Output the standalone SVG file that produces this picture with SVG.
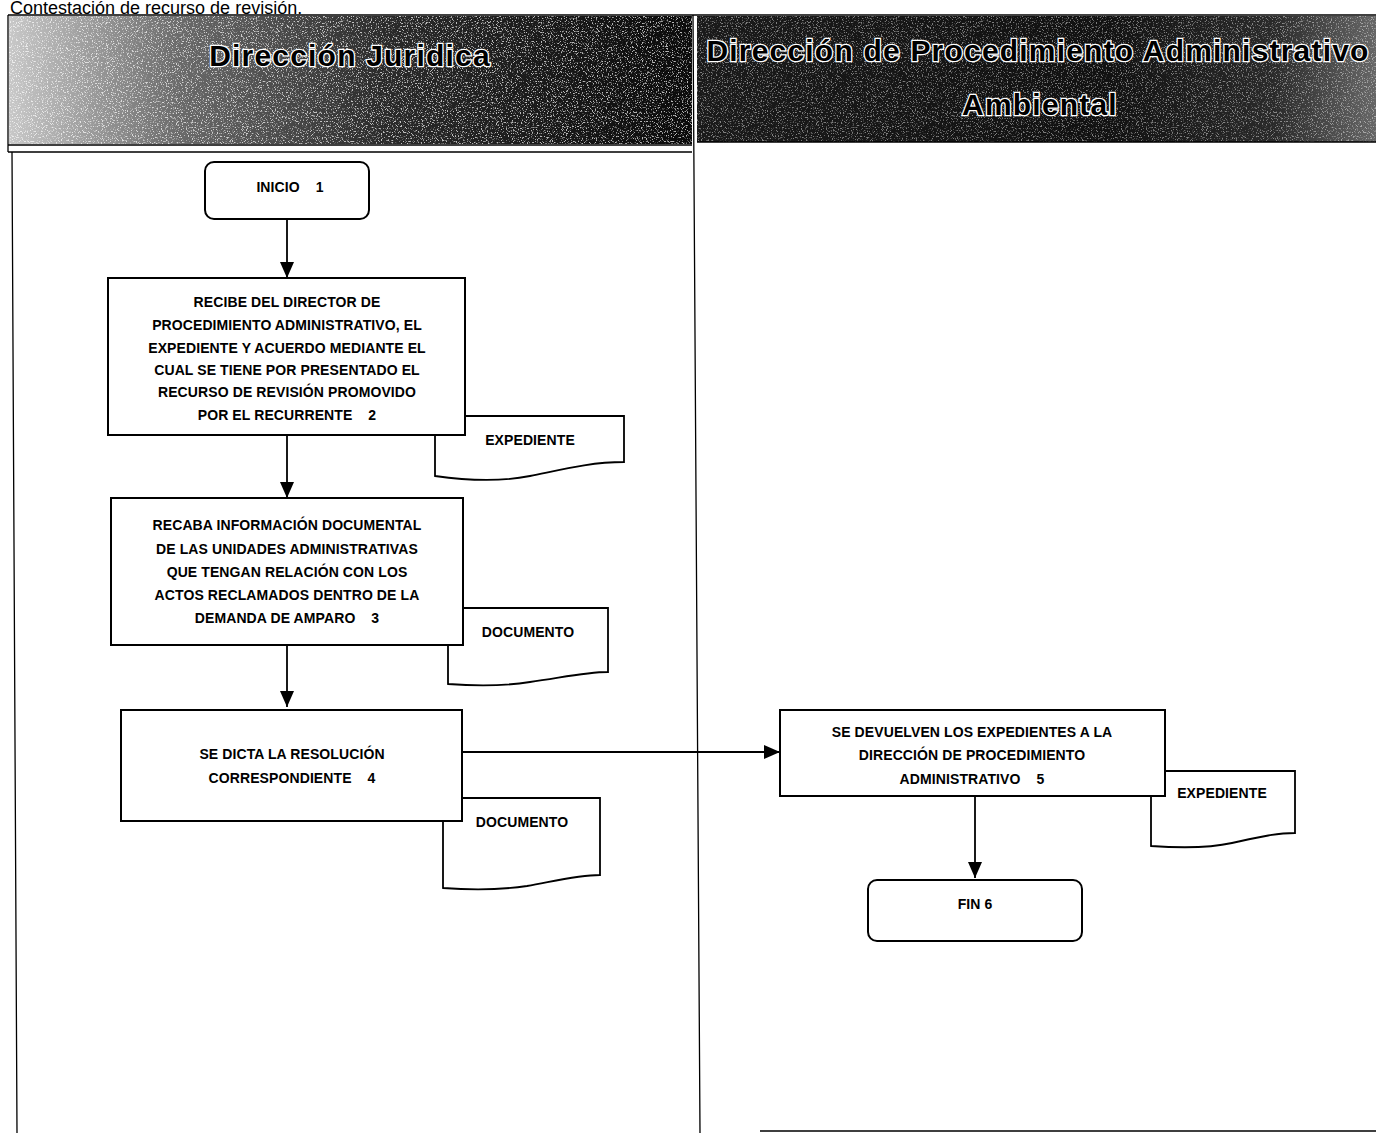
<svg xmlns="http://www.w3.org/2000/svg" width="1376" height="1133" viewBox="0 0 1376 1133">
<style>
.t{font-family:"Liberation Sans",Arial,sans-serif;font-weight:bold;font-size:14px;fill:#000;text-anchor:middle;white-space:pre;letter-spacing:0.1px}
.box{fill:#fff;stroke:#000;stroke-width:2}
.doc{fill:#fff;stroke:#000;stroke-width:1.8}
.lane{fill:none;stroke:#000;stroke-width:1.3}
.conn{fill:none;stroke:#000;stroke-width:1.8}
.hd{font-family:"Liberation Sans",Arial,sans-serif;font-weight:bold;font-size:30px;letter-spacing:1.2px;fill:#000;stroke:#fff;stroke-width:2.6;paint-order:stroke;text-anchor:middle}
</style>
<defs>
<marker id="ah" viewBox="0 0 16 14" refX="16" refY="7" markerWidth="16" markerHeight="14" markerUnits="userSpaceOnUse" orient="auto">
<path d="M0,0 L16,7 L0,14 Z" fill="#000"/>
</marker>
<linearGradient id="gL" x1="0" y1="0" x2="1" y2="0">
<stop offset="0" stop-color="#c8c8c8"/>
<stop offset="0.25" stop-color="#6a6a6a"/>
<stop offset="0.55" stop-color="#2a2a2a"/>
<stop offset="1" stop-color="#0a0a0a"/>
</linearGradient>
<linearGradient id="gR" x1="0" y1="0" x2="1" y2="0">
<stop offset="0" stop-color="#1a1a1a"/>
<stop offset="0.6" stop-color="#111"/>
<stop offset="0.85" stop-color="#2a2a2a"/>
<stop offset="1" stop-color="#666"/>
</linearGradient>
<filter id="spk" x="0" y="0" width="100%" height="100%">
<feTurbulence type="fractalNoise" baseFrequency="0.8" numOctaves="2" seed="7"/>
<feColorMatrix type="matrix" values="0 0 0 0 1  0 0 0 0 1  0 0 0 0 1  7 0 0 0 -3.9"/>
</filter>
</defs>
<text x="10" y="14" style="font-family:'Liberation Sans',Arial,sans-serif;font-size:18px;fill:#000">Contestación de recurso de revisión.</text>
<g id="header">
<rect x="9" y="16" width="683" height="128" fill="url(#gL)"/>
<rect x="9" y="16" width="683" height="128" fill="#fff" filter="url(#spk)" opacity="0.7"/>
<rect x="697" y="16" width="679" height="126" fill="url(#gR)"/>
<rect x="697" y="16" width="679" height="126" fill="#fff" filter="url(#spk)" opacity="0.45"/>
<path class="lane" d="M8,15 H1376 M8,15 V152 M8,145 H692 M697,142 H1376"/>
<text class="hd" x="350" y="66">Dirección Juridica</text>
<text class="hd" x="1038" y="61">Dirección de Procedimiento Administrativo</text>
<text class="hd" x="1040" y="115">Ambiental</text>
</g>
<g id="lanes">
<path class="lane" d="M8,152 H692 M12,152 L17,1133 M693,15 L700,1133 M760,1131 H1376"/>
</g>
<g id="connectors">
<line class="conn" x1="287" y1="219" x2="287" y2="278" marker-end="url(#ah)"/>
<line class="conn" x1="287" y1="435" x2="287" y2="498" marker-end="url(#ah)"/>
<line class="conn" x1="287" y1="645" x2="287" y2="707" marker-end="url(#ah)"/>
<line class="conn" x1="462" y1="752" x2="780" y2="752" marker-end="url(#ah)"/>
<line class="conn" x1="975" y1="796" x2="975" y2="878" marker-end="url(#ah)"/>
</g>
<g id="d2">
<path class="doc" d="M435,416 H624 V462 C590,462 560,470 530,476 C500,482 470,481 435,476 Z"/>
<text class="t" x="530" y="445">EXPEDIENTE</text>
</g>
<g id="d3">
<path class="doc" d="M448,608 H608 V672 C585,672 560,678 530,682 C505,686 475,686 448,684 Z"/>
<text class="t" x="528" y="637">DOCUMENTO</text>
</g>
<g id="d4">
<path class="doc" d="M443,798 H600 V875 C578,875 555,881 527,886 C500,890 470,890 443,888 Z"/>
<text class="t" x="522" y="827">DOCUMENTO</text>
</g>
<g id="d5">
<path class="doc" d="M1151,771 H1295 V833 C1275,833 1255,838 1232,843 C1210,848 1180,848 1151,846 Z"/>
<text class="t" x="1222" y="798">EXPEDIENTE</text>
</g>
<g id="n1">
<rect class="box" x="205" y="162" width="164" height="57" rx="9"/>
<text class="t" x="290" y="192">INICIO    1</text>
</g>
<g id="n2">
<rect class="box" x="108" y="278" width="357" height="157"/>
<text class="t" x="287" y="307">RECIBE DEL DIRECTOR DE</text>
<text class="t" x="287" y="330">PROCEDIMIENTO ADMINISTRATIVO, EL</text>
<text class="t" x="287" y="353">EXPEDIENTE Y ACUERDO MEDIANTE EL</text>
<text class="t" x="287" y="375">CUAL SE TIENE POR PRESENTADO EL</text>
<text class="t" x="287" y="397">RECURSO DE REVISIÓN PROMOVIDO</text>
<text class="t" x="287" y="420">POR EL RECURRENTE    2</text>
</g>
<g id="n3">
<rect class="box" x="111" y="498" width="352" height="147"/>
<text class="t" x="287" y="530">RECABA INFORMACIÓN DOCUMENTAL</text>
<text class="t" x="287" y="554">DE LAS UNIDADES ADMINISTRATIVAS</text>
<text class="t" x="287" y="577">QUE TENGAN RELACIÓN CON LOS</text>
<text class="t" x="287" y="600">ACTOS RECLAMADOS DENTRO DE LA</text>
<text class="t" x="287" y="623">DEMANDA DE AMPARO    3</text>
</g>
<g id="n4">
<rect class="box" x="121" y="710" width="341" height="111"/>
<text class="t" x="292" y="759">SE DICTA LA RESOLUCIÓN</text>
<text class="t" x="292" y="783">CORRESPONDIENTE    4</text>
</g>
<g id="n5">
<rect class="box" x="780" y="710" width="385" height="86"/>
<text class="t" x="972" y="737">SE DEVUELVEN LOS EXPEDIENTES A LA</text>
<text class="t" x="972" y="760">DIRECCIÓN DE PROCEDIMIENTO</text>
<text class="t" x="972" y="784">ADMINISTRATIVO    5</text>
</g>
<g id="n6">
<rect class="box" x="868" y="880" width="214" height="61" rx="9"/>
<text class="t" x="975" y="909">FIN 6</text>
</g>
</svg>
